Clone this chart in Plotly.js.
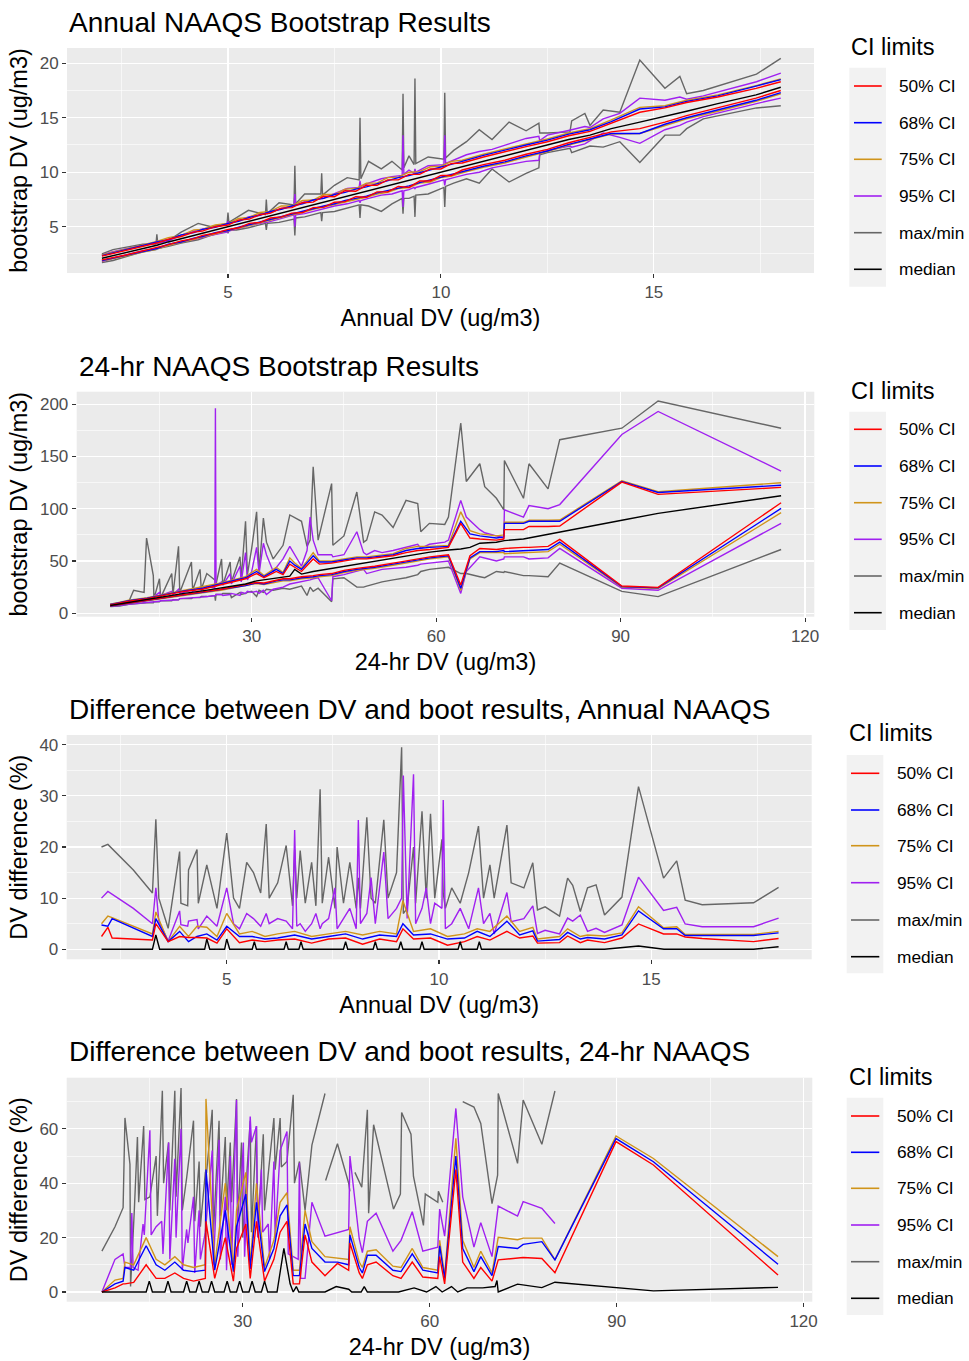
<!DOCTYPE html>
<html><head><meta charset="utf-8">
<script src="https://cdn.plot.ly/plotly-3.0.1.min.js"></script>
<style>html,body{margin:0;padding:0;background:#fff}#chart{width:969px;height:1361px}</style>
</head><body><div id="chart"></div>
<script>
// ---------------- Panel 1: Annual NAAQS bootstrap results ----------------
const annX = [2.04, 2.6, 3.33, 3.6, 3.9, 4.2, 4.4, 4.7, 5.0, 5.25, 5.5, 5.75, 6.0, 6.25, 6.5, 6.75, 7.0, 7.25, 7.5, 7.75, 8.0, 8.25, 8.5, 8.75, 9.0, 9.25, 9.5, 9.75, 10.0, 10.25, 10.5, 11.0, 11.5, 12.0, 12.5, 13.0, 13.5, 14.0, 14.67, 15.26, 15.77, 16.5, 17.4, 17.98];
const annMedian = [2.1, 2.6, 3.3, 3.6, 3.9, 4.2, 4.4, 4.7, 4.95, 5.25, 5.5, 5.75, 6.0, 6.25, 6.5, 6.75, 7.0, 7.25, 7.5, 7.75, 8.0, 8.25, 8.5, 8.75, 9.0, 9.25, 9.45, 9.75, 10.0, 10.25, 10.5, 11.0, 11.5, 12.0, 12.45, 13.0, 13.4, 14.0, 14.6, 15.1, 15.6, 16.3, 17.1, 17.8];
const ann50Hi = [2.3, 2.8, 3.5, 3.85, 4.1, 4.5, 4.6, 5.0, 5.15, 5.6, 5.7, 6.1, 6.25, 6.7, 6.75, 7.2, 7.25, 7.8, 7.75, 8.3, 8.25, 8.8, 8.8, 9.3, 9.3, 9.8, 9.8, 10.3, 10.3, 10.8, 10.85, 11.4, 11.9, 12.35, 12.8, 13.35, 13.75, 14.5, 15.5, 15.9, 16.4, 16.9, 17.7, 18.3];
const ann50Lo = [1.95, 2.4, 3.1, 3.35, 3.7, 3.9, 4.2, 4.4, 4.75, 4.9, 5.3, 5.4, 5.8, 5.9, 6.25, 6.3, 6.75, 6.8, 7.25, 7.3, 7.75, 7.7, 8.2, 8.2, 8.7, 8.6, 9.2, 9.2, 9.7, 9.7, 10.2, 10.7, 11.1, 11.65, 12.1, 12.7, 13.2, 13.7, 14.0, 14.6, 15.2, 15.9, 16.8, 17.5];
const ann68Hi = [2.35, 2.9, 3.6, 3.8, 4.25, 4.45, 4.75, 4.95, 5.3, 5.5, 5.85, 6.05, 6.4, 6.6, 6.9, 7.1, 7.45, 7.6, 7.95, 8.15, 8.45, 8.65, 8.95, 9.2, 9.5, 9.7, 9.95, 10.25, 10.5, 10.7, 11.0, 11.55, 12.05, 12.5, 12.95, 13.5, 13.9, 14.65, 15.8, 16.0, 16.5, 17.0, 17.9, 18.5];
const ann68Lo = [1.9, 2.35, 3.0, 3.4, 3.6, 3.95, 4.1, 4.45, 4.65, 4.95, 5.2, 5.45, 5.7, 5.95, 6.15, 6.4, 6.65, 6.9, 7.1, 7.4, 7.6, 7.8, 8.1, 8.3, 8.55, 8.75, 9.05, 9.3, 9.55, 9.8, 10.05, 10.55, 10.95, 11.5, 11.95, 12.55, 13.05, 13.55, 13.55, 14.4, 15.0, 15.7, 16.6, 17.3];
const ann75Hi = [2.4, 2.95, 3.65, 4.0, 4.2, 4.7, 4.75, 5.15, 5.3, 5.75, 5.85, 6.3, 6.4, 6.9, 6.9, 7.4, 7.45, 7.95, 7.95, 8.45, 8.5, 9.0, 9.0, 9.5, 9.55, 10.0, 10.05, 10.5, 10.55, 11.0, 11.1, 11.65, 12.15, 12.6, 13.05, 13.6, 14.0, 14.8, 15.95, 16.1, 16.6, 17.1, 17.95, 18.55];
const ann75Lo = [1.85, 2.3, 2.95, 3.3, 3.55, 3.85, 4.05, 4.35, 4.6, 4.85, 5.15, 5.35, 5.65, 5.85, 6.1, 6.3, 6.6, 6.8, 7.05, 7.25, 7.5, 7.7, 8.0, 8.15, 8.5, 8.6, 9.0, 9.1, 9.5, 9.65, 9.95, 10.45, 10.85, 11.4, 11.9, 12.5, 13.0, 13.5, 13.55, 14.3, 14.9, 15.6, 16.5, 17.2];

const annXf = [2.04, 2.3, 3.0, 3.31, 3.33, 3.35, 3.6, 3.9, 4.3, 4.6,
  4.98, 5.0, 5.02, 5.2, 5.48, 5.88, 5.9, 5.92, 6.2, 6.55,
  6.57, 6.59, 6.8, 7.18, 7.2, 7.22, 7.5, 7.8, 8.08, 8.1,
  8.12, 8.3, 8.6, 8.85, 9.09, 9.11, 9.13, 9.25, 9.37, 9.39,
  9.41, 9.7, 10.07, 10.09, 10.11, 10.3, 10.6, 10.9, 11.2, 11.6,
  12.0, 12.3, 12.32, 12.5, 13.03, 13.07, 13.38, 13.5, 13.81, 14.2,
  14.67, 15.26, 15.61, 15.77, 16.16, 17.41, 17.98];
const annMax = [2.5, 2.9, 3.4, 3.4, 4.3, 3.5, 3.7, 4.5, 5.3, 5.0,
  5.3, 6.3, 5.4, 5.8, 6.5, 6.1, 7.5, 6.2, 7.2, 7.0,
  10.6, 7.1, 8.0, 8.0, 9.9, 7.9, 8.8, 9.5, 9.3, 15.0,
  9.4, 11.0, 10.3, 11.0, 10.2, 17.2, 10.4, 11.5, 10.7, 18.6,
  10.8, 11.4, 11.2, 17.3, 11.3, 12.0, 12.8, 13.9, 13.0, 14.6,
  13.8, 14.5, 13.6, 13.6, 13.7, 14.7, 15.4, 14.3, 15.7, 15.5,
  20.3, 17.7, 18.8, 17.2, 17.5, 19.0, 20.45];
const annMin = [1.7, 1.9, 2.7, 2.9, 3.0, 3.0, 3.2, 3.5, 3.8, 4.2,
  4.6, 4.4, 4.7, 4.7, 4.9, 5.3, 4.7, 5.3, 5.4, 5.7,
  4.2, 5.8, 5.9, 6.3, 5.5, 6.3, 6.4, 6.7, 7.0, 5.8,
  7.0, 6.9, 6.4, 7.1, 7.6, 6.2, 7.6, 7.6, 7.8, 5.9,
  7.9, 8.0, 8.6, 6.8, 8.7, 9.0, 9.4, 9.0, 10.3, 9.1,
  9.9, 10.4, 11.6, 11.8, 12.2, 11.8, 12.2, 12.4, 12.3, 12.8,
  10.9, 13.4, 13.4, 14.0, 14.9, 15.9, 16.1];
const ann95Hi = [2.4, 2.7, 3.3, 3.5, 3.7, 3.5, 3.7, 4.2, 4.7, 4.9,
  5.2, 5.5, 5.3, 5.5, 5.9, 6.2, 6.3, 6.2, 6.6, 6.9,
  8.0, 7.0, 7.3, 7.6, 7.8, 7.6, 8.0, 8.5, 8.6, 9.2,
  8.7, 9.0, 9.4, 9.6, 9.7, 13.4, 9.8, 10.2, 9.9, 10.3,
  10.0, 10.6, 10.7, 13.4, 10.8, 11.1, 11.6, 11.9, 12.1, 12.6,
  13.1, 13.3, 12.9, 13.4, 13.8, 13.9, 14.2, 14.1, 14.9, 15.4,
  16.8, 16.6, 16.9, 16.7, 17.0, 18.3, 19.1];
const ann95Lo = [1.8, 2.1, 2.8, 3.0, 3.0, 3.0, 3.3, 3.6, 3.9, 4.2,
  4.5, 4.5, 4.6, 4.8, 5.1, 5.4, 5.4, 5.4, 5.7, 6.1,
  5.0, 6.1, 6.2, 6.6, 6.6, 6.6, 6.9, 7.1, 7.4, 7.2,
  7.4, 7.6, 7.9, 8.0, 8.3, 6.8, 8.3, 8.4, 8.6, 8.5,
  8.6, 8.9, 9.3, 8.8, 9.3, 9.5, 9.8, 10.0, 10.4, 10.7,
  11.0, 11.1, 11.7, 12.0, 12.4, 12.3, 12.6, 12.9, 13.6, 13.2,
  12.65, 13.9, 14.3, 14.6, 15.1, 16.3, 16.8];

// ---------------- Panel 2: 24-hr NAAQS bootstrap results ----------------
const dayX = [7, 10, 13, 16, 19, 22, 25, 27, 29, 30.8, 32, 34, 35.1, 36.2, 37, 38.1, 40, 41, 43, 45, 47.1, 48.7, 50, 53, 55.1, 57, 59, 62, 64, 65.5, 67.1, 69.8, 71.0, 71.1, 74.2, 75.1, 78.2, 80.1, 90.2, 96.1, 116.1];
const dayMedian = [7.5, 10.5, 13, 16, 19, 21.5, 24, 26, 28, 31, 32, 34, 35, 35.5, 42, 37.5, 40, 41, 43, 44.5, 47, 48.5, 50, 53, 55, 57, 58.5, 60.5, 61.5, 63, 67, 68, 69, 69.5, 71, 72, 75, 77, 89, 95.6, 112.4];
const day50Hi = [8, 11.5, 14, 17.5, 21, 23, 27, 30, 33, 38, 34, 40, 37, 47, 44, 40, 52, 47, 48, 50, 52, 52, 53, 55, 58, 60, 61, 63, 86, 72, 71, 70, 71, 80, 80, 83, 83, 83.5, 125.5, 113.7, 120.4];
const day68Hi = [8.2, 12, 14.5, 18, 21.5, 24, 28, 31, 34, 40, 35, 42, 38, 50, 46, 42, 55, 49, 49, 51, 53, 53, 54, 56, 60, 62, 63, 64, 88, 76, 74, 72, 73, 86, 86, 88, 88, 88, 126, 115.5, 122.5];
const day75Hi = [8.4, 12.5, 15, 18.5, 22, 25, 29, 32, 35, 42, 36, 44, 39, 53, 48, 43, 58, 50, 50, 52, 54, 54, 55, 57, 62, 64, 64, 65, 97, 79, 76, 74, 75, 87, 87, 89, 89, 89.2, 126.8, 116.3, 124.9];
const day50Lo = [7.2, 10, 12.5, 15.5, 18, 20.5, 23, 25, 27, 29.5, 29, 32, 33, 33, 34, 35, 36, 37, 38, 41, 43, 44, 45, 48, 50, 52, 54, 56, 27, 55, 62, 61, 62, 62, 63, 63, 64, 70.7, 26.1, 24.8, 105.7];
const day68Lo = [7.0, 9.8, 12.2, 15.2, 17.7, 20, 22.5, 24.5, 26.5, 29, 28, 31, 32, 32, 33, 34, 35, 36, 37, 40, 42, 43, 44, 47, 49, 51, 53, 55, 24, 53, 59, 59, 60, 59, 60, 60, 61, 68, 25.5, 24.3, 100.3];
const day75Lo = [6.9, 9.6, 12, 15, 17.4, 19.7, 22, 24, 26, 28.5, 27.5, 30, 31, 31, 32, 33, 34, 35, 36, 39, 41, 42, 43, 46, 48, 50, 52, 54, 22, 52, 58, 58, 58, 57, 58, 58, 59, 66, 25, 23.7, 96.2];

const dayXf = [7.0, 8.5, 10.0, 10.8, 12.5, 12.9, 14.0, 14.1, 15.0, 15.2,
  17.0, 17.2, 18.1, 18.3, 20.2, 20.4, 21.6, 21.8, 22.7, 24.0,
  24.1, 24.2, 25.1, 25.3, 26.5, 26.7, 28.1, 28.3, 29.0, 29.3,
  30.0, 30.8, 31.2, 31.9, 32.4, 33.5, 35.1, 36.2, 38.1, 39.0,
  39.5, 40.0, 40.8, 43.0, 43.2, 45.0, 47.1, 48.2, 48.7, 50.0,
  51.2, 53.0, 55.1, 57.0, 57.5, 58.9, 61.4, 62.0, 64.0, 64.9,
  67.1, 67.9, 69.8, 71.0, 71.1, 74.2, 75.1, 78.2, 80.1, 90.2,
  96.1, 116.1];
const dayMax = [9, 10, 11, 22, 20, 72, 36, 14, 33, 15,
  38, 18, 64, 20, 49, 22, 42, 23, 38, 32,
  30, 28, 52, 27, 49, 30, 54, 33, 88, 37,
  62, 97, 40, 91, 68, 52, 65, 94, 88, 64,
  70, 140, 70, 124, 65, 74, 116, 68, 70, 97,
  94, 82, 108, 105, 78, 86, 85, 92, 182, 126,
  143, 121, 110, 99, 146, 110, 143, 119, 166, 177,
  203, 177];
const dayMin = [6.5, 7.0, 8.5, 9.0, 10, 10, 10, 11, 11, 12,
  12, 13, 13, 14, 14, 15, 15, 16, 16, 17,
  12, 18, 18, 19, 19, 15, 20, 18, 19, 20,
  21, 16, 22, 20, 23, 22, 24, 23, 26, 17,
  25, 21, 24, 11, 33, 34, 25, 25, 26, 28,
  30, 32, 34, 37, 40, 42, 44, 44, 38, 38,
  35, 34, 40, 39, 40, 36, 36, 35, 48, 21,
  16, 61];
const day95Hi = [8.5, 9.5, 10.5, 12, 13, 14, 15, 16, 20, 17,
  21, 18, 23, 19, 22, 21, 25, 22, 26, 24,
  196, 26, 30, 27, 38, 28, 45, 30, 58, 32,
  40, 63, 38, 67, 56, 40, 52, 64, 45, 60,
  92, 70, 56, 56, 54, 56, 78, 58, 56, 60,
  58, 60, 63, 66, 62, 66, 68, 70, 108, 92,
  80, 77, 74, 72, 99, 92, 103, 100, 104, 171,
  193, 136];
const day95Lo = [6.8, 7.3, 8.6, 9.0, 10, 10.5, 11, 11, 11.5, 12,
  12.5, 13, 13, 14, 14.5, 15, 15, 15.5, 16, 17,
  17, 18, 18, 17, 18, 19, 17, 20, 19, 21,
  20, 21, 19, 22, 18, 23, 25, 28, 30, 31,
  32, 33, 34, 12, 35, 37, 40, 42, 38, 40,
  42, 43, 44, 46, 47, 48, 50, 50, 19, 40,
  54, 53, 50, 52, 54, 54, 52, 53, 62, 24,
  22, 86];

// ---------------- Panel 3: % difference, Annual NAAQS ----------------
const annDiffXf = [2.05, 2.2, 2.8, 3.25, 3.33, 3.4, 3.62, 3.89, 3.92, 4.08,
  4.10, 4.3, 4.33, 4.53, 4.77, 5.0, 5.16, 5.3, 5.47, 5.63,
  5.8, 5.93, 6.0, 6.2, 6.4, 6.55, 6.6, 6.65, 6.73, 6.85,
  7.0, 7.1, 7.2, 7.25, 7.4, 7.55, 7.6, 7.75, 7.9, 8.05,
  8.1, 8.15, 8.3, 8.4, 8.5, 8.7, 8.8, 9.0, 9.12, 9.16,
  9.25, 9.4, 9.45, 9.6, 9.7, 9.8, 9.9, 10.07, 10.1, 10.15,
  10.3, 10.5, 10.7, 10.93, 11.05, 11.2, 11.3, 11.6, 11.7, 12.0,
  12.21, 12.32, 12.5, 12.84, 13.03, 13.15, 13.33, 13.5, 13.7, 13.9,
  14.31, 14.7, 15.29, 15.6, 15.8, 16.2, 17.41, 18.0];
const annDiffMaxMin = [20.0, 20.5, 15.5, 11.0, 25.4, 10, 4.1, 19.1, 9, 8.5,
  15.5, 19.5, 9, 16.5, 8, 22.7, 10, 8, 17, 15,
  11, 24.5, 10, 13, 20.3, 8.5, 19.5, 10, 19.3, 9,
  17, 8.5, 31.3, 9, 18, 8, 20, 9, 17, 8,
  14, 8, 25.8, 10, 9, 25.3, 10, 15, 39.5, 7,
  8, 20, 9, 27, 10, 26.5, 10, 21.5, 11, 8,
  12, 9, 15, 24.1, 10, 16.5, 10, 24.3, 13, 12,
  16.9, 7.7, 8.3, 6.5, 13.9, 12.5, 7.4, 12, 12.6, 6.7,
  10.2, 31.8, 13.9, 17.3, 9.6, 8.7, 9.1, 12.1];
const annDiff95 = [10.0, 11.3, 8, 5.0, 12.0, 5.5, 1.6, 7.5, 4.8, 4.5,
  5.5, 5.8, 4, 6.5, 4.5, 12.0, 5, 4, 7, 6,
  4.5, 7, 5, 6, 5.5, 4, 23.3, 4.5, 5, 3.5,
  5, 7, 4, 5, 6, 12, 4, 6, 8, 4,
  25.3, 5, 7, 14, 5, 19, 6, 8, 10, 34,
  6, 34.2, 5, 8, 12, 5, 9, 8, 29.2, 4,
  5, 8, 4, 12, 5, 7, 3, 11.1, 5.4, 6,
  8.5, 3.1, 3.7, 3.0, 6.1, 5.5, 6.7, 3.5, 4.1, 3.3,
  4.75, 14.1, 7.6, 8.2, 4.95, 4.4, 4.4, 6.1];
const annDiffX = [2.05, 2.2, 2.3, 3.25, 3.33, 3.62, 3.89, 4.1, 4.3, 4.53, 4.77, 5.0, 5.3, 5.6, 5.9, 6.2, 6.6, 7.0, 7.4, 7.8, 8.2, 8.6, 9.0, 9.15, 9.4, 9.8, 10.2, 10.6, 10.9, 11.2, 11.6, 11.9, 12.21, 12.32, 12.84, 13.03, 13.33, 13.5, 13.9, 14.31, 14.7, 15.29, 15.6, 15.8, 16.2, 17.41, 18.0];
const annDiff75 = [5.0, 6.5, 6.2, 3.0, 7.3, 1.5, 4.5, 2.5, 4.5, 4.3, 2.5, 7.0, 3.0, 3.5, 2.5, 3.0, 3.5, 2.5, 3.0, 3.5, 2.8, 3.5, 3.0, 9.5, 3.5, 4.0, 2.5, 3.0, 4.0, 3.5, 6.5, 3.5, 4.3, 2.0, 2.5, 4.0, 2.5, 2.8, 2.6, 3.2, 8.3, 4.2, 4.4, 2.9, 2.9, 2.9, 3.5];
const annDiff68 = [4.75, 4.5, 6.0, 2.5, 6.0, 1.5, 3.5, 1.5, 2.5, 3.0, 1.8, 4.5, 2.5, 2.5, 2.0, 2.2, 2.8, 2.0, 2.5, 3.0, 2.0, 2.8, 2.5, 5.0, 2.8, 3.0, 2.0, 2.2, 3.5, 2.5, 5.5, 2.8, 3.6, 1.6, 1.9, 3.3, 2.0, 2.3, 2.0, 2.8, 7.5, 4.0, 4.0, 2.7, 2.7, 2.7, 3.2];
const annDiff50 = [2.5, 4.3, 2.2, 1.8, 5.0, 1.5, 2.5, 2.3, 2.3, 2.2, 1.2, 4.0, 1.3, 1.8, 1.5, 1.8, 2.0, 1.2, 2.0, 2.2, 1.0, 2.0, 1.5, 4.0, 2.0, 2.2, 0.8, 1.5, 2.5, 1.8, 3.5, 2.2, 2.6, 1.2, 1.3, 2.6, 1.3, 1.8, 1.3, 2.2, 4.95, 3.0, 3.0, 2.4, 2.1, 1.5, 2.1];
const annDiffMedX = [2.05, 3.25, 3.33, 3.42, 4.48, 4.53, 4.6, 4.95, 5.0, 5.07, 5.6, 5.65, 5.7, 6.35, 6.4, 6.45, 6.7, 6.75, 6.8, 7.75, 7.8, 7.85, 8.45, 8.5, 8.55, 9.05, 9.1, 9.15, 9.55, 9.6, 9.65, 10.45, 10.5, 10.55, 10.9, 10.95, 11.0, 13.9, 14.7, 15.3, 17.41, 18.0];
const annDiffMed = [0, 0, 2.8, 0, 0, 2.0, 0, 0, 2.0, 0, 0, 1.5, 0, 0, 1.5, 0, 0, 1.5, 0, 0, 1.5, 0, 0, 1.5, 0, 0, 1.5, 0, 0, 1.5, 0, 0, 1.5, 0, 0, 1.5, 0, 0, 0.65, 0, 0, 0.5];

// ---------------- Panel 4: % difference, 24-hr NAAQS ----------------
const dayDiffMaxMinX = [7.4, 9.5, 10.8, 11.1, 11.9, 12.0, 12.6, 13.1, 13.3, 14.1,
  14.3, 15.1, 16.1, 16.3, 17.1, 17.3, 18.1, 18.3, 19.1, 19.3,
  20.1, 20.3, 21.0, 22.1, 22.3, 23.0, 23.2, 24.0, 24.2, 25.1,
  25.3, 26.2, 26.4, 27.2, 27.4, 28.0, 28.2, 29.0, 29.2, 29.8,
  30.0, 31.2, 31.4, 32.2, 32.4, 33.3, 33.5, 35.0, 35.2, 36.0,
  36.2, 37.1, 38.1, 38.3, 39.1, 40.0, 41.1, 43.2, 43.25, 43.3,
  45.2, 47.0, 47.2, 47.6, 48.0, 49.1, 50.0, 50.2, 51.0, 54.2,
  55.3, 55.5, 57.0, 57.4, 59.0, 59.3, 61.3, 61.4, 62.1, 63.5,
  65.3, 67.1, 68.2, 70.0, 70.9, 71.0, 74.1, 75.0, 78.0, 80.1];
const dayDiffMaxMin = [15, 24, 31, 64, 47, 2, 30, 57, 33, 61,
  34, 35, 50, 28, 74, 40, 55, 30, 74, 35,
  75, 30, 42, 63, 26, 48, 24, 44, 44, 67,
  22, 63, 28, 57, 30, 55, 33, 71, 26, 55,
  20, 63, 22, 61, 21, 58, 30, 64, 45, 64,
  46, 48, 72.5, 40, 48, 30, 54, 73, null, 41,
  54.5, 40, 37, null, 44, 38.5, 67, 29, 61.5, 30.5,
  36, 66, 58, 42.5, 24.5, 36, 33, 37, 33, null,
  70, 68, 62, 32.5, 43, 73, 47.3, 70.6, 54.3, 73.9];
const dayDiff95X = [7.4, 9.5, 10.8, 11.1, 12.0, 12.2, 12.4, 13.2, 14.0, 14.2,
  15.1, 15.3, 16.1, 17.0, 17.2, 18.1, 18.3, 19.1, 19.3, 20.1,
  20.3, 21.0, 21.2, 22.1, 22.3, 23.0, 23.2, 24.0, 25.1, 25.3,
  26.2, 26.4, 27.2, 27.4, 28.0, 28.2, 29.0, 29.2, 30.1, 30.3,
  31.2, 31.4, 32.2, 32.4, 33.0, 33.2, 34.1, 34.3, 35.0, 35.2,
  36.0, 37.1, 37.3, 38.1, 38.9, 39.1, 39.3, 40.0, 41.1, 43.2,
  47.0, 47.2, 48.7, 49.2, 50.0, 51.4, 54.1, 55.4, 57.2, 58.9,
  61.3, 61.6, 62.4, 64.2, 65.3, 67.1, 68.2, 70.0, 71.0, 74.1,
  75.0, 78.0, 80.1];
const dayDiff95 = [0, 12, 14, 9, 9, 29, 9, 8, 25, 21,
  59.5, 21, 24, 26, 14, 55, 12, 49, 20, 60,
  8, 23, 18, 35, 7, 30, 12, 22, 52, 10,
  56, 12, 35, 8, 50, 10, 70.6, 13, 55, 13,
  64.5, 55, 61, 20, 45, 22, 25, 12, 48, 20,
  52, 59, 14, 13, 12, 47.5, 5, 5, 33, 20.5,
  23, 50, 19.5, 14.5, 26, 29, 15, 19, 29.5, 15,
  16.5, 30.5, 20.5, 67.5, 35, 16.5, 25.5, 13, 31.6, 27.9,
  33.2, 30.8, 25.2];
const dayDiffX = [7.4, 9.5, 10.8, 11.1, 12.5, 14.5, 16.1, 17.5, 19.1, 20.5, 22.1, 24.0, 24.1, 25.5, 27.2, 28.5, 29.0, 30.5, 31.2, 32.2, 33.5, 35.0, 36.0, 37.1, 38.1, 39.1, 40.0, 41.1, 43.2, 45.2, 47.0, 47.2, 48.7, 49.2, 50.0, 51.4, 54.1, 55.4, 57.2, 58.9, 61.3, 61.6, 62.4, 64.2, 65.3, 67.1, 68.2, 70.0, 71.0, 74.1, 75.0, 78.0, 80.1, 89.9, 95.9, 115.9];
const dayDiff75 = [0, 4.4, 5, 11, 10, 20, 12, 10, 13, 10, 9, 10, 71, 10, 40, 9, 30, 44, 10, 40, 9, 19, 33, 36.5, 8, 8, 30, 18.5, 13, 12.5, 12, 24, 11, 9, 15, 15.5, 9.5, 9, 16, 9, 8, 19, 6, 56.5, 19, 9, 15, 7, 20.1, 19.2, 19.8, 19.8, 11.8, 57.4, 49.1, 13];
const dayDiff68 = [0, 3, 4, 9, 8, 17, 10, 8, 11, 8, 7.5, 8, 45, 8, 30, 7.5, 24, 36, 8.5, 33, 7.5, 16, 28, 32, 6, 6, 25, 16, 11, 11, 10, 21, 9, 7, 13.5, 13.5, 8, 7.5, 14, 8, 7, 17, 5, 50, 16, 7.5, 13, 6, 16.7, 16, 17.5, 18.5, 11.8, 56.4, 47.9, 10.2];
const dayDiff50 = [0, 1.5, 3, 3, 3.5, 10, 5, 5, 7, 5, 4, 5, 26, 5, 20, 4, 16, 25, 5, 26, 4, 12, 22, 26, 3, 3, 21, 11, 6, 10.5, 8, 18, 7, 5, 10, 11, 6, 5, 11, 5.5, 5, 13, 3, 45, 11, 5, 9, 4, 11.8, 12.7, 12.7, 12.3, 7.1, 55.3, 46.7, 6.25];
const dayDiffMedX = [7.4, 14.5, 15.0, 15.5, 17.5, 18.0, 18.5, 20.5, 21.0, 21.5, 22.5, 23.0, 23.5, 24.5, 25.0, 25.5, 27.0, 27.5, 28.0, 29.0, 29.5, 30.0, 31.0, 31.5, 32.0, 33.0, 33.5, 34.0, 35.5, 36.6, 37.6, 38.1, 38.6, 39.0, 40.0, 43.2, 45.0, 47.0, 47.5, 49.0, 49.5, 50.0, 55.0, 57.5, 59.5, 61.0, 62.0, 63.5, 64.5, 66.0, 68.5, 70.5, 70.8, 71.0, 74.1, 78.0, 80.1, 89.9, 95.9, 115.9];
const dayDiffMed = [0, 0, 4, 0, 0, 4, 0, 0, 4, 0, 0, 4, 0, 0, 4, 0, 0, 4, 0, 0, 4, 0, 0, 4, 0, 0, 4, 0, 0, 16, 3, 0, 2, 0, 0, 0, 2, 1, 0, 0, 2, 0, 0, 1.5, 0, 2, 0, 2, 0, 1.5, 1.5, 2, 4.2, 0, 2.9, 1.6, 3.6, 1.5, 0.4, 1.7];

// ---------------- labels ----------------
const legendLabels = ['50% CI', '68% CI', '75% CI', '95% CI', 'max/min', 'median'];
const panelTitles = ['Annual NAAQS Bootstrap Results', '24-hr NAAQS Bootstrap Results',
  'Difference between DV and boot results, Annual NAAQS', 'Difference between DV and boot results, 24-hr NAAQS'];
const xTitles = ['Annual DV (ug/m3)', '24-hr DV (ug/m3)', 'Annual DV (ug/m3)', '24-hr DV (ug/m3)'];
const yTitles = ['bootstrap DV (ug/m3)', 'bootstrap DV (ug/m3)', 'DV difference (%)', 'DV difference (%)'];
const annTicks = [5, 10, 15], annMinor = [2.5, 7.5, 12.5, 17.5];
const dayTicks = [30, 60, 90, 120], dayMinor = [15, 45, 75, 105];
const bootAnnYTicks = [5, 10, 15, 20], bootAnnYMinor = [2.5, 7.5, 12.5, 17.5];
const bootDayYTicks = [0, 50, 100, 150, 200], bootDayYMinor = [25, 75, 125, 175];
const diffAnnYTicks = [0, 10, 20, 30, 40], diffAnnYMinor = [5, 15, 25, 35];
const diffDayYTicks = [0, 20, 40, 60], diffDayYMinor = [10, 30, 50, 70];

// ---------------- styling ----------------
const W = 969, H = 1361;
const FONT = 'Liberation Sans, Arial, Helvetica, sans-serif';
const COL = {c50: '#FF0000', c68: '#0000FF', c75: '#D0941A', c95: '#A020F0', mm: '#666666', med: '#000000'};
const legendColors = [COL.c50, COL.c68, COL.c75, COL.c95, COL.mm, COL.med];
const LW = 1.4;
const px = v => v / W, py = v => 1 - v / H;

function ln(x, y, color, ax, name) {
  return {type: 'scatter', mode: 'lines', x: x, y: y, xaxis: 'x' + ax, yaxis: 'y' + ax, name: name,
    showlegend: false, hoverinfo: 'skip', connectgaps: false, line: {color: color, width: LW}};
}

const traces = [];
traces.push(ln(annXf, annMax, COL.mm, '', 'max/min'), ln(annXf, annMin, COL.mm, '', 'max/min'),
  ln(annXf, ann95Hi, COL.c95, '', '95% CI'), ln(annXf, ann95Lo, COL.c95, '', '95% CI'),
  ln(annX, ann75Hi, COL.c75, '', '75% CI'), ln(annX, ann75Lo, COL.c75, '', '75% CI'),
  ln(annX, ann68Hi, COL.c68, '', '68% CI'), ln(annX, ann68Lo, COL.c68, '', '68% CI'),
  ln(annX, ann50Hi, COL.c50, '', '50% CI'), ln(annX, ann50Lo, COL.c50, '', '50% CI'),
  ln(annX, annMedian, COL.med, '', 'median'));
traces.push(ln(dayXf, dayMax, COL.mm, '2', 'max/min'), ln(dayXf, dayMin, COL.mm, '2', 'max/min'),
  ln(dayXf, day95Hi, COL.c95, '2', '95% CI'), ln(dayXf, day95Lo, COL.c95, '2', '95% CI'),
  ln(dayX, day75Hi, COL.c75, '2', '75% CI'), ln(dayX, day75Lo, COL.c75, '2', '75% CI'),
  ln(dayX, day68Hi, COL.c68, '2', '68% CI'), ln(dayX, day68Lo, COL.c68, '2', '68% CI'),
  ln(dayX, day50Hi, COL.c50, '2', '50% CI'), ln(dayX, day50Lo, COL.c50, '2', '50% CI'),
  ln(dayX, dayMedian, COL.med, '2', 'median'));
traces.push(ln(annDiffXf, annDiffMaxMin, COL.mm, '3', 'max/min'),
  ln(annDiffXf, annDiff95, COL.c95, '3', '95% CI'),
  ln(annDiffX, annDiff75, COL.c75, '3', '75% CI'),
  ln(annDiffX, annDiff68, COL.c68, '3', '68% CI'),
  ln(annDiffX, annDiff50, COL.c50, '3', '50% CI'),
  ln(annDiffMedX, annDiffMed, COL.med, '3', 'median'));
traces.push(ln(dayDiffMaxMinX, dayDiffMaxMin, COL.mm, '4', 'max/min'),
  ln(dayDiff95X, dayDiff95, COL.c95, '4', '95% CI'),
  ln(dayDiffX, dayDiff75, COL.c75, '4', '75% CI'),
  ln(dayDiffX, dayDiff68, COL.c68, '4', '68% CI'),
  ln(dayDiffX, dayDiff50, COL.c50, '4', '50% CI'),
  ln(dayDiffMedX, dayDiffMed, COL.med, '4', 'median'));

const tickFont = {family: FONT, size: 17, color: '#4D4D4D'};
const titleFont = {family: FONT, size: 23.5, color: '#000000'};
function xAxis(dom, range, ticks, minor, anchor, title) {
  return {domain: dom, range: range, anchor: anchor, tickmode: 'array', tickvals: ticks, ticktext: ticks.map(String),
    showgrid: true, gridcolor: '#FFFFFF', gridwidth: 1.2, zeroline: false, showline: false,
    minor: {tickmode: 'array', tickvals: minor, showgrid: true, gridcolor: '#FFFFFF', gridwidth: 0.6},
    ticks: 'outside', ticklen: 4, tickwidth: 1.1, tickcolor: '#333333', tickfont: tickFont,
    title: {text: title, font: titleFont, standoff: 8}, automargin: false, fixedrange: true};
}
function yAxis(dom, range, ticks, minor, anchor, title) {
  const a = xAxis(dom, range, ticks, minor, anchor, title);
  a.title.standoff = 5;
  return a;
}

const layout = {
  width: W, height: H, margin: {l: 0, r: 0, t: 0, b: 0},
  paper_bgcolor: '#FFFFFF', plot_bgcolor: '#EBEBEB', showlegend: false,
  font: {family: FONT},
  xaxis: xAxis([px(67), px(814)], [1.22, 18.76], annTicks, annMinor, 'y', xTitles[0]),
  yaxis: yAxis([py(273), py(48)], [0.75, 21.4], bootAnnYTicks, bootAnnYMinor, 'x', yTitles[0]),
  xaxis2: xAxis([px(76.7), px(814.3)], [1.54, 121.5], dayTicks, dayMinor, 'y2', xTitles[1]),
  yaxis2: yAxis([py(616.7), py(391.7)], [-3.25, 211.9], bootDayYTicks, bootDayYMinor, 'x2', yTitles[1]),
  xaxis3: xAxis([px(66.7), px(811.7)], [1.23, 18.78], annTicks, annMinor, 'y3', xTitles[2]),
  yaxis3: yAxis([py(959.3), py(735)], [-1.96, 41.9], diffAnnYTicks, diffAnnYMinor, 'x3', yTitles[2]),
  xaxis4: xAxis([px(66.7), px(812.3)], [1.75, 121.4], dayTicks, dayMinor, 'y4', xTitles[3]),
  yaxis4: yAxis([py(1301.7), py(1077.7)], [-3.57, 78.8], diffDayYTicks, diffDayYMinor, 'x4', yTitles[3]),
  annotations: [], shapes: []
};

const titlePos = [[67, 22], [77, 366], [67, 709.3], [67, 1051.7]];
panelTitles.forEach((t, i) => {
  layout.annotations.push({text: t, xref: 'paper', yref: 'paper', x: px(titlePos[i][0]), y: py(titlePos[i][1]),
    xanchor: 'left', yanchor: 'middle', showarrow: false, font: {family: FONT, size: 28, color: '#000000'}});
});

const legends = [
  {tx: 850, ty: 47, bx0: 849.3, bx1: 886, by0: 67.7, by1: 286.7, lx0: 854, lx1: 881.7, txt: 897, ys: [86, 122.7, 159.3, 196, 232.7, 269.3]},
  {tx: 850, ty: 390.7, bx0: 849.3, bx1: 886, by0: 411.7, by1: 630, lx0: 854, lx1: 881.7, txt: 897, ys: [429.3, 466, 502.7, 539.3, 576, 612.7]},
  {tx: 847.7, ty: 733.3, bx0: 846.7, bx1: 883.3, by0: 755, by1: 973.3, lx0: 851, lx1: 879.3, txt: 894.5, ys: [773.3, 810, 845.7, 882.7, 920, 956.7]},
  {tx: 847.7, ty: 1076.7, bx0: 846.7, bx1: 883.3, by0: 1097.7, by1: 1315, lx0: 851, lx1: 879.3, txt: 894.5, ys: [1116, 1152.3, 1188.3, 1225, 1261.7, 1298.3]}
];
legends.forEach(L => {
  layout.annotations.push({text: 'CI limits', xref: 'paper', yref: 'paper', x: px(L.tx - 1), y: py(L.ty),
    xanchor: 'left', yanchor: 'middle', showarrow: false, font: titleFont});
  layout.shapes.push({type: 'rect', xref: 'paper', yref: 'paper', x0: px(L.bx0), x1: px(L.bx1), y0: py(L.by1), y1: py(L.by0),
    fillcolor: '#F2F2F2', line: {width: 0}, layer: 'below'});
  legendLabels.forEach((lab, k) => {
    layout.shapes.push({type: 'line', xref: 'paper', yref: 'paper', x0: px(L.lx0), x1: px(L.lx1), y0: py(L.ys[k]), y1: py(L.ys[k]),
      line: {color: legendColors[k], width: 1.6}});
    layout.annotations.push({text: lab, xref: 'paper', yref: 'paper', x: px(L.txt), y: py(L.ys[k]),
      xanchor: 'left', yanchor: 'middle', showarrow: false, font: {family: FONT, size: 17.3, color: '#000000'}});
  });
});

Plotly.newPlot('chart', traces, layout, {staticPlot: true, displayModeBar: false});
</script></body></html>
